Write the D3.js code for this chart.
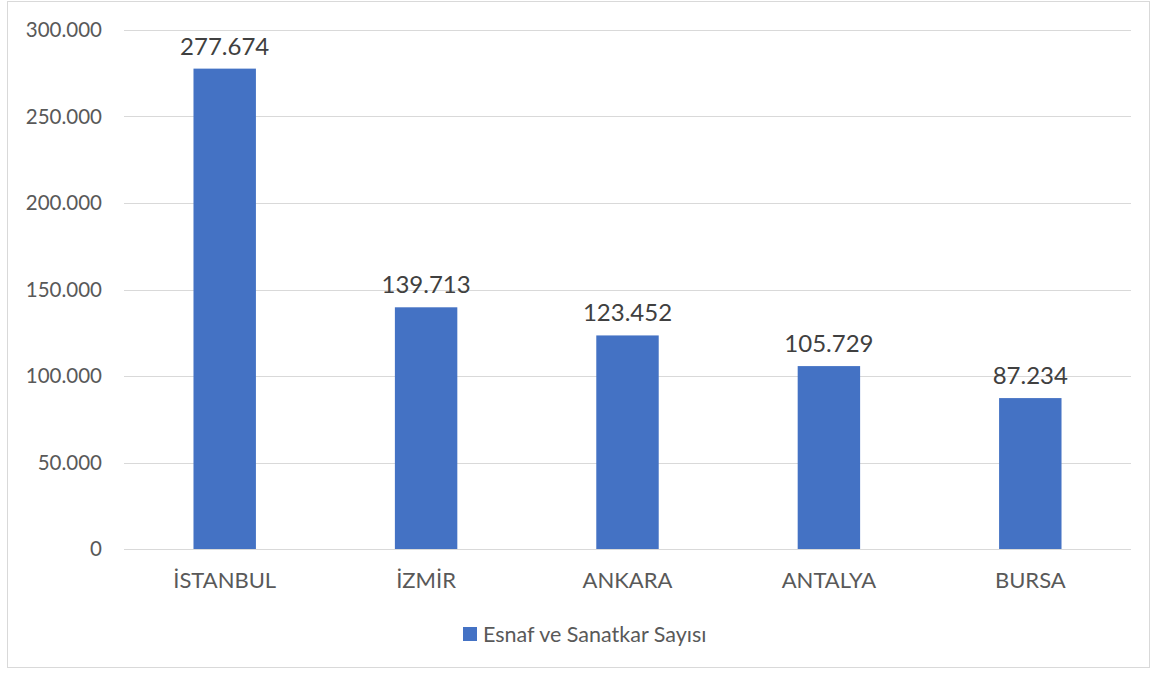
<!DOCTYPE html>
<html><head><meta charset="utf-8">
<script src="https://cdn.jsdelivr.net/npm/d3@7"></script>
<style>html,body{margin:0;padding:0;background:#fff;}svg{display:block;font-family:Lato,"Open Sans",sans-serif;}</style>
</head><body><svg id="c" width="1152" height="675"></svg>
<script>
const categories = ["İSTANBUL","İZMİR","ANKARA","ANTALYA","BURSA"];
const values = [277674, 139713, 123452, 105729, 87234];
const seriesName = "Esnaf ve Sanatkar Sayısı";
const yTicks = [0, 50000, 100000, 150000, 200000, 250000, 300000];

const svg = d3.select("#c");
const W = 1152, H = 675;
const m = {left:124, right:21, top:30, bottom:126};
svg.append("rect").attr("x",7.5).attr("y",1.5).attr("width",1142).attr("height",666)
  .attr("fill","#fff").attr("stroke","#d9d9d9");

const x = d3.scaleBand().domain(categories).range([m.left, W-m.right]).paddingInner(0.69).paddingOuter(0.345);
const y = d3.scaleLinear().domain([0,300000]).range([H-m.bottom, m.top]);
const fmt = v => d3.format(",")(v).replace(/,/g,".");

svg.append("g").selectAll("line").data(yTicks).join("line")
  .attr("x1",m.left).attr("x2",W-m.right)
  .attr("y1",d=>Math.round(y(d))+0.5).attr("y2",d=>Math.round(y(d))+0.5)
  .attr("stroke","#d9d9d9").attr("stroke-width",1);

const yAxis = d3.axisLeft(y).tickValues(yTicks).tickSize(0).tickPadding(0).tickFormat(fmt);
const ga = svg.append("g").attr("transform",`translate(102,0)`).call(yAxis);
ga.select(".domain").remove();
ga.selectAll("text").attr("fill","#595959").attr("font-size","20.5px").attr("font-family","Lato,'Open Sans',sans-serif");

svg.append("g").selectAll("rect").data(values).join("rect")
  .attr("x",(d,i)=>x(categories[i])).attr("width",x.bandwidth())
  .attr("y",d=>y(d)).attr("height",d=>y(0)-y(d)).attr("fill","#4472c4");

svg.append("line").attr("x1",m.left).attr("x2",W-m.right)
  .attr("y1",Math.round(y(0))+0.5).attr("y2",Math.round(y(0))+0.5).attr("stroke","#d9d9d9");

svg.append("g").selectAll("text").data(values).join("text")
  .attr("x",(d,i)=>x(categories[i])+x.bandwidth()/2).attr("y",d=>y(d)-14)
  .attr("text-anchor","middle").attr("fill","#404040").attr("font-size","24px").text(fmt);

const xAxis = d3.axisBottom(x).tickSize(0).tickPadding(0);
const gx = svg.append("g").attr("transform",`translate(0,${y(0)+39})`).call(xAxis);
gx.select(".domain").remove();
gx.selectAll("text").attr("fill","#595959").attr("font-size","22px").attr("font-family","Lato,'Open Sans',sans-serif").attr("dy","0");

const lg = svg.append("g");
lg.append("rect").attr("x",463).attr("y",627).attr("width",14).attr("height",14).attr("fill","#4472c4");
lg.append("text").attr("x",483).attr("y",642).attr("fill","#595959").attr("font-size","21.5px").text(seriesName);
</script></body></html>
